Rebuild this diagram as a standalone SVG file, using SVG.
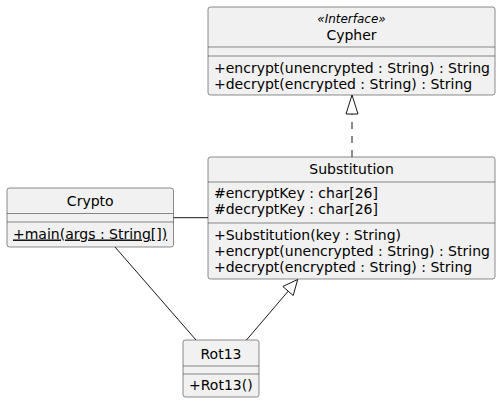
<svg xmlns="http://www.w3.org/2000/svg" width="501" height="404" viewBox="0 0 501 404">
<style>
.box{fill:#F1F1F1;stroke:#181818;stroke-width:0.5}
.sep{stroke:#181818;stroke-width:0.5}
text{font-family:"DejaVu Sans",sans-serif;font-size:14px;fill:#000}
.st{font-size:12px;font-style:italic}
.c{text-anchor:middle}
.edge{stroke:#181818;stroke-width:1;fill:none}
</style>
<rect width="501" height="404" fill="#FFFFFF"/>
<g id="Cypher">
<rect class="box" x="208" y="7" width="287" height="88" rx="2.5"/>
<text class="st c" x="351.5" y="23">«Interface»</text>
<text class="c" x="351.5" y="39.5">Cypher</text>
<line class="sep" x1="208" y1="47" x2="495" y2="47"/>
<line class="sep" x1="208" y1="56" x2="495" y2="56"/>
<text x="214" y="72.5">+encrypt(unencrypted : String) : String</text>
<text x="214" y="88.5">+decrypt(encrypted : String) : String</text>
</g>
<g id="Substitution">
<rect class="box" x="208" y="157" width="287" height="122" rx="2.5"/>
<text class="c" x="351.5" y="173.5">Substitution</text>
<line class="sep" x1="208" y1="182" x2="495" y2="182"/>
<text x="214" y="198">#encryptKey : char[26]</text>
<text x="214" y="214">#decryptKey : char[26]</text>
<line class="sep" x1="208" y1="223" x2="495" y2="223"/>
<text x="214" y="239.5">+Substitution(key : String)</text>
<text x="214" y="255.5">+encrypt(unencrypted : String) : String</text>
<text x="214" y="271.5">+decrypt(encrypted : String) : String</text>
</g>
<g id="Crypto">
<rect class="box" x="7" y="188" width="166.5" height="59" rx="2.5"/>
<text class="c" x="90.25" y="206">Crypto</text>
<line class="sep" x1="7" y1="213.5" x2="173.5" y2="213.5"/>
<line class="sep" x1="7" y1="222" x2="173.5" y2="222"/>
<text x="13" y="238.5" text-decoration="underline">+main(args : String[])</text>
</g>
<g id="Rot13">
<rect class="box" x="183" y="340" width="76" height="57" rx="2.5"/>
<text class="c" x="221" y="358.5">Rot13</text>
<line class="sep" x1="183" y1="366" x2="259" y2="366"/>
<line class="sep" x1="183" y1="374" x2="259" y2="374"/>
<text x="189" y="390">+Rot13()</text>
</g>
<g id="connectors">
<line class="edge" x1="352" y1="157" x2="352" y2="114" stroke-dasharray="7,7"/>
<polygon points="352,95 346,114 358,114" fill="#FFFFFF" stroke="#181818" stroke-width="1"/>
<line class="edge" x1="173.5" y1="217.7" x2="208" y2="217.7"/>
<line class="edge" x1="115" y1="247" x2="196" y2="340"/>
<line class="edge" x1="246.5" y1="340" x2="288.6" y2="290.7"/>
<polygon points="297.7,279.5 282.8,286.5 293.2,295.5" fill="#FFFFFF" stroke="#181818" stroke-width="1"/>
</g>
</svg>
